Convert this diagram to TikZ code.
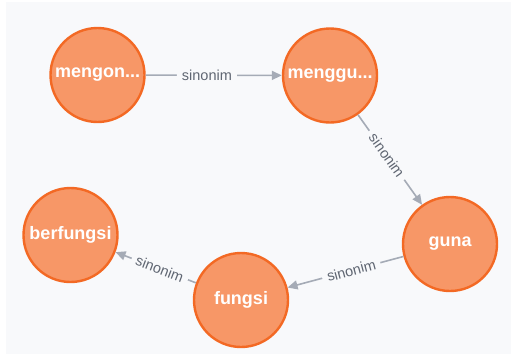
\documentclass[tikz,border=0pt]{standalone}
\usepackage{fontspec}
\setmainfont{Liberation Sans}
\usetikzlibrary{arrows.meta}
\definecolor{canvas}{HTML}{F8F9FB}
\definecolor{nodefill}{HTML}{F79767}
\definecolor{nodeline}{HTML}{F36924}
\definecolor{edgegray}{HTML}{A5ABB6}
\definecolor{labelgray}{HTML}{5F6672}
\tikzset{
  word/.style={circle, minimum size=94pt, inner sep=0pt, fill=nodefill,
    draw=nodeline, line width=2.4pt, text=white,
    font=\fontsize{18}{18}\selectfont\bfseries},
  rel/.style={draw=edgegray, line width=1.6pt,
    -{Triangle[length=10pt,width=9pt]}},
  rellabel/.style={sloped, pos=0.45, fill=canvas, inner xsep=5pt,
    inner ysep=2pt, text=labelgray, font=\fontsize{14.5}{14.5}\selectfont}
}
\begin{document}
\begin{tikzpicture}[x=1pt, y=-1pt]
  \useasboundingbox (0,0) rectangle (511,356);
  \fill[white] (0,0) rectangle (511,356);
  \fill[canvas] (6,2) rectangle (511,354);

  \node[word] (mengon)    at (97.5,75)  {mengon...};
  \node[word] (menggu)    at (330,75.5) {menggu...};
  \node[word] (guna)      at (450,244)  {guna};
  \node[word] (fungsi)    at (241,300)  {fungsi};
  \node[word] (berfungsi) at (70.5,235) {berfungsi};

  \draw[rel] (mengon) -- node[rellabel] {sinonim} (menggu);
  \draw[rel] (menggu) -- node[rellabel] {sinonim} (guna);
  \draw[rel] (guna)   -- node[rellabel] {sinonim} (fungsi);
  \draw[rel] (fungsi) -- node[rellabel] {sinonim} (berfungsi);
\end{tikzpicture}
\end{document}
